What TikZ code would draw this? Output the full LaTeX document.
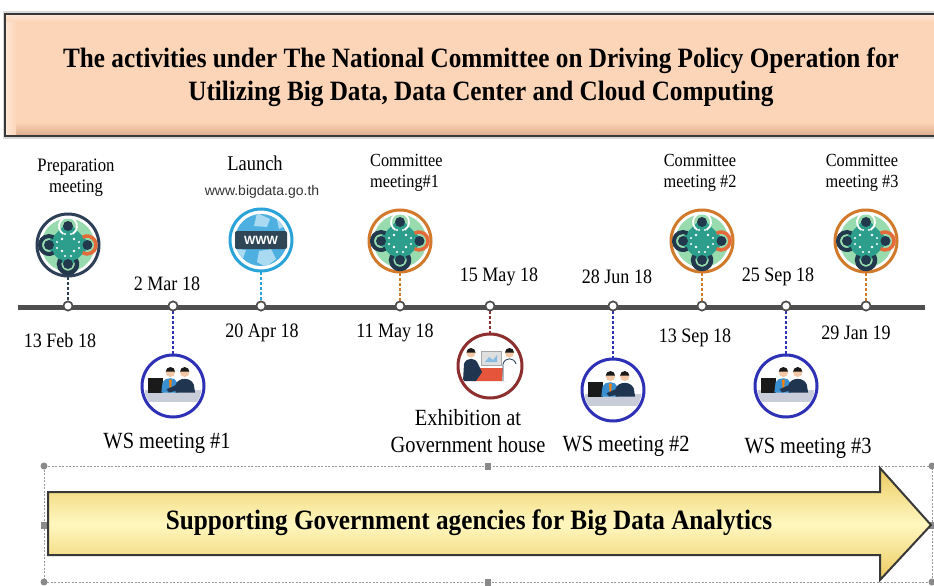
\documentclass[tikz,border=0pt]{standalone}
\usepackage{fontspec}
\setmainfont{Liberation Serif}[FakeStretch=0.88]
\newfontfamily\headfont{Liberation Serif}[FakeStretch=0.9]
\newfontfamily\urlfont{Liberation Sans}
\usetikzlibrary{shapes.geometric}

\definecolor{peach}{HTML}{FCD5B8}
\definecolor{peachdark}{HTML}{D9A98A}
\definecolor{peachlight}{HTML}{FEE8D8}
\definecolor{boxline}{HTML}{383838}
\definecolor{arrowlight}{HTML}{FFF7C0}
\definecolor{arrowgold}{HTML}{EBCB60}
\definecolor{timeline}{HTML}{4F4F4F}
\definecolor{navyring}{HTML}{2D4057}
\definecolor{skyring}{HTML}{2AA3D8}
\definecolor{orangering}{HTML}{D27A2C}
\definecolor{wsring}{HTML}{2E31B5}
\definecolor{exring}{HTML}{8E2F2F}
\definecolor{mgreen}{HTML}{97DBAE}
\definecolor{mteal}{HTML}{2E9E8C}
\definecolor{mnavy}{HTML}{22384C}
\definecolor{morange}{HTML}{E46A3A}
\definecolor{globe}{HTML}{4DB0E0}
\definecolor{globelight}{HTML}{A9DAF2}
\definecolor{banner}{HTML}{2F4656}
\definecolor{tablegray}{HTML}{C9CDD9}
\definecolor{suit}{HTML}{1F3550}
\definecolor{shirt}{HTML}{3A8FD0}
\definecolor{skin}{HTML}{F2C7A5}
\definecolor{hair}{HTML}{1A1A1A}
\definecolor{exred}{HTML}{E5553B}
\definecolor{handle}{HTML}{8A8A8A}

\tikzset{
  iconnode/.style={circle, minimum size=64pt, inner sep=0pt},
  marker/.style={circle, draw=timeline, fill=white, line width=1.6pt, minimum size=9pt, inner sep=0pt},
  conn/.style={draw=#1, line width=1.3pt, dash pattern=on 3pt off 2pt},
  datelbl/.style={font=\fontsize{20.5}{22}\selectfont},
  toplbl/.style={font=\fontsize{18.5}{21}\selectfont, align=center, inner sep=0pt},
  wslbl/.style={font=\fontsize{23.2}{27}\selectfont, align=center, inner sep=0pt},
  handlesq/.style={fill=handle, minimum width=6pt, minimum height=7pt, inner sep=0pt},
  handlecirc/.style={circle, fill=handle, minimum size=7pt, inner sep=0pt},
  % round table seen from above, four people around it
  pics/tablemeet/.style={code={
    \draw[#1, line width=3pt] (0,0) circle (31);
    \fill[mgreen] (0,0) circle (26.5);
    \fill[mteal, rounded corners=5pt, rotate=45] (-16.5,-16.5) rectangle (16.5,16.5);
    \fill[white] (-6,-6) circle (1.3) (6,-6) circle (1.3) (-6,6) circle (1.3) (6,6) circle (1.3)
                 (-3,-11) circle (1.1) (3,-11) circle (1.1) (-11,-3) circle (1.1) (-11,3) circle (1.1)
                 (11,-3) circle (1.1) (11,3) circle (1.1) (-3,11) circle (1.1) (3,11) circle (1.1);
    \draw[white, line width=1.8pt] (-4.5,-11) arc (120:420:9);
    \fill[mnavy] (0,-19) circle (5);
    \draw[mnavy, line width=4pt] (-14.5,7.8) arc (60:300:9);
    \fill[mnavy] (-19,0) circle (5);
    \draw[morange, line width=3.5pt] (14.5,-7.8) arc (-120:120:9);
    \fill[mnavy] (19.5,0) circle (5);
    \draw[mnavy, line width=4.5pt] (7.8,14.5) arc (-30:210:9);
    \fill[mnavy] (0,19) circle (5);
  }},
  % globe with a banner
  pics/globeicon/.style={code={
    \draw[skyring, line width=3pt] (0,0) circle (31);
    \fill[globe] (0,0) circle (26);
    \begin{scope}
      \clip (0,0) circle (26);
      \fill[globelight] (-4,-27) -- (9,-21) -- (6,-13) -- (-7,-14) -- cycle;
      \fill[globelight] (-2,11) -- (10,9) -- (15,19) -- (5,27) -- (-4,22) -- cycle;
      \fill[globelight] (-27,8) -- (-15,10) -- (-19,21) -- cycle;
      \fill[globelight] (16,-20) -- (24,-14) -- (18,-11) -- cycle;
    \end{scope}
    \fill[banner, rounded corners=2pt] (-26,-9) rectangle (26,9);
  }},
  % two people working at a laptop
  pics/workshop/.style={code={
    \draw[wsring, line width=3pt] (0,0) circle (31);
    \begin{scope}
      \clip (0,0) circle (29);
      \fill[tablegray] (-28,4) rectangle (28,16);
      \begin{scope}[scale=1.3, yshift=-1pt]
        \fill[hair] (-19,-7) rectangle (-8,4);
        \fill[shirt] (-9,4) -- (-8,-4) .. controls (-6,-8) and (2,-8) .. (3,-4) -- (4,4) -- cycle;
        \fill[orange] (-3,-6) -- (-1,-6) -- (-1.5,3) -- (-2.5,3) -- cycle;
        \fill[skin] (-2,-11.5) circle (3.6);
        \fill[hair] (-5.6,-12) arc (180:360:3.6) -- cycle;
        \fill[suit] (2,4) -- (2,-2) .. controls (4,-8) and (14,-8) .. (16,-2) -- (17,4) -- cycle;
        \fill[suit] (3,-2) -- (-5,1.5) -- (-3,4) -- (5,2) -- cycle;
        \fill[skin] (9,-11.5) circle (3.6);
        \fill[hair] (5.4,-12) arc (180:360:3.6) -- cycle;
      \end{scope}
    \end{scope}
  }},
  % presentation at a red table
  pics/exhibit/.style={code={
    \draw[exring, line width=3pt] (0,0) circle (32);
    \begin{scope}
      \clip (0,0) circle (30);
      \fill[gray!25] (-9,-15) rectangle (11,-1);
      \draw[gray!70, line width=0.8pt] (-9,-15) rectangle (11,-1);
      \fill[shirt!60] (-5,-4) -- (-1,-9) -- (3,-6) -- (7,-11) -- (7,-4) -- cycle;
      \fill[exred] (-14,2) -- (14,2) -- (17,15) -- (-17,15) -- cycle;
      \fill[suit] (-27,15) -- (-26,-2) .. controls (-24,-9) and (-14,-9) .. (-12,-2) -- (-8,6) -- (-14,15) -- cycle;
      \fill[skin] (-19,-13) circle (4.5);
      \fill[hair] (-23.5,-13.5) arc (180:360:4.5) -- cycle;
      \fill[white] (12,15) -- (13,-2) .. controls (15,-9) and (24,-9) .. (26,-2) -- (27,15) -- cycle;
      \draw[suit, line width=0.8pt] (13,15) -- (13,-2) .. controls (15,-9) and (24,-9) .. (26,-2);
      \fill[skin] (19.5,-13) circle (4.5);
      \fill[hair] (15,-13.5) arc (180:360:4.5) -- cycle;
    \end{scope}
  }}
}

\begin{document}
\begin{tikzpicture}[x=1pt, y=-1pt]
  \useasboundingbox (0,0) rectangle (934,586);
  \fill[white] (0,0) rectangle (934,586);

  % heading panel with bevelled edges
  \fill[gray!30] (3,11) rectangle (945,139);
  \fill[peach] (5,14) rectangle (945,136);
  \shade[top color=peach, bottom color=peachdark] (5,122) rectangle (945,136);
  \shade[left color=peachlight, right color=peach] (5,14) rectangle (16,136);
  \shade[top color=peachlight, bottom color=peach] (5,14) rectangle (945,22);
  \draw[boxline, line width=2.4pt] (5,14) rectangle (945,136);
  \node[font=\headfont\bfseries\fontsize{28}{33}\selectfont, align=center] (title) at (481,77)
    {The activities under The National Committee on Driving Policy Operation for\\
     Utilizing Big Data, Data Center and Cloud Computing};

  % time axis
  \draw[timeline, line width=5pt] (18,307) coordinate (axisstart) -- (925,307) coordinate (axisend);

  % icons
  \node[iconnode] (prep)   at (68,245)  {};
  \node[iconnode] (launch) at (261,240) {};
  \node[iconnode] (cm1)    at (400,241) {};
  \node[iconnode] (cm2)    at (702,241) {};
  \node[iconnode] (cm3)    at (866,241) {};
  \node[iconnode] (ws1)    at (173,386) {};
  \node[iconnode] (exh)    at (490,366) {};
  \node[iconnode] (ws2)    at (613,390) {};
  \node[iconnode] (ws3)    at (786,386) {};

  % markers on the axis
  \foreach \n/\x in {m1/68, m2/173, m3/261, m4/400, m5/490, m6/613, m7/702, m8/786, m9/866}
    \node[marker] (\n) at (\x,306) {};

  % dashed stems
  \draw[conn=navyring]   (prep)   -- (m1);
  \draw[conn=skyring]    (launch) -- (m3);
  \draw[conn=orangering] (cm1)    -- (m4);
  \draw[conn=orangering] (cm2)    -- (m7);
  \draw[conn=orangering] (cm3)    -- (m9);
  \draw[conn=wsring]     (m2) -- (ws1);
  \draw[conn=exring]     (m5) -- (exh);
  \draw[conn=wsring]     (m6) -- (ws2);
  \draw[conn=wsring]     (m8) -- (ws3);
  \foreach \n in {m1,m2,m3,m4,m5,m6,m7,m8,m9}
    \node[marker] at (\n) {};

  \pic at (prep.center)   {tablemeet=navyring};
  \pic at (launch.center) {globeicon};
  \node[font=\urlfont\bfseries\fontsize{12}{12}\selectfont, text=white] (www) at (261,240) {WWW};
  \pic at (cm1.center) {tablemeet=orangering};
  \pic at (cm2.center) {tablemeet=orangering};
  \pic at (cm3.center) {tablemeet=orangering};
  \pic at (ws1.center) {workshop};
  \pic at (ws2.center) {workshop};
  \pic at (ws3.center) {workshop};
  \pic at (exh.center) {exhibit};

  % captions above the axis
  \node[toplbl, font=\fontsize{19}{21}\selectfont] (preplbl) at (76,178) {Preparation\\meeting};
  \node[font=\fontsize{21}{22}\selectfont, inner sep=0pt] (launchlbl) at (255,163) {Launch};
  \node[font=\urlfont\fontsize{14}{14}\selectfont, inner sep=0pt, text=black!80] (url) at (262,192) {www.bigdata.go.th};
  \node[toplbl, align=left, anchor=west] (cm1lbl) at (370,173) {Committee\\meeting\#1};
  \node[toplbl] (cm2lbl) at (700,173) {Committee\\meeting \#2};
  \node[toplbl] (cm3lbl) at (862,173) {Committee\\meeting \#3};

  % dates
  \node[datelbl] (d1) at (60,340)  {13 Feb 18};
  \node[datelbl] (d2) at (167,284) {2 Mar 18};
  \node[datelbl] (d3) at (262,333) {20 Apr 18};
  \node[datelbl] (d4) at (395,333) {11 May 18};
  \node[datelbl] (d5) at (499,277) {15 May 18};
  \node[datelbl] (d6) at (617,277) {28 Jun 18};
  \node[datelbl] (d7) at (695,338) {13 Sep 18};
  \node[datelbl] (d8) at (778,277) {25 Sep 18};
  \node[datelbl] (d9) at (856,333) {29 Jan 19};

  % captions below the axis
  \node[wslbl] (ws1lbl) at (167,443) {WS meeting \#1};
  \node[wslbl] (exhlbl) at (468,431) {Exhibition at\\Government house};
  \node[wslbl] (ws2lbl) at (626,446) {WS meeting \#2};
  \node[wslbl] (ws3lbl) at (808,448) {WS meeting \#3};

  % selection frame round the arrow
  \draw[gray!80, line width=0.7pt, dash pattern=on 2pt off 1.5pt] (44,466) rectangle (932,582);
  \node[handlecirc] (h1) at (44,466)  {};
  \node[handlesq]   (h2) at (488,466) {};
  \node[handlecirc] (h3) at (932,466) {};
  \node[handlesq]   (h4) at (44,525)  {};
  \node[handlesq]   (h5) at (932,525) {};
  \node[handlecirc] (h6) at (44,582)  {};
  \node[handlesq]   (h7) at (488,582) {};
  \node[handlecirc] (h8) at (932,582) {};

  % block arrow
  \shade[top color=arrowgold, bottom color=arrowgold, middle color=arrowlight, draw=boxline, line width=2pt]
    (48,492) -- (880,492) -- (880,468) -- (931,525) -- (880,580) -- (880,555) -- (48,555) -- cycle;
  \node[font=\headfont\bfseries\fontsize{28}{30}\selectfont] (arrowtext) at (469,523)
    {Supporting Government agencies for Big Data Analytics};
\end{tikzpicture}
\end{document}
